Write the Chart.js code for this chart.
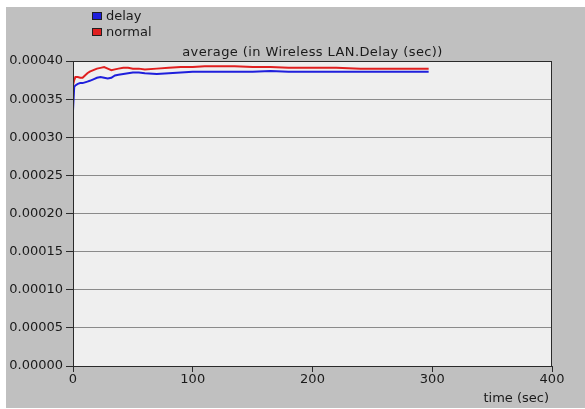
<!DOCTYPE html>
<html>
<head>
<meta charset="utf-8">
<script src="https://cdn.jsdelivr.net/npm/chart.js@4/dist/chart.umd.min.js"></script>
<style>
html,body{margin:0;padding:0;background:#fff;}
#wrap{width:585px;height:409px;position:relative;}
</style>
</head>
<body>
<div id="wrap"><canvas id="c" width="585" height="409"></canvas></div>
<script>
const chartTitle = 'average (in Wireless LAN.Delay (sec))';
const xAxisLabel = 'time (sec)';
const seriesNames = ['delay', 'normal'];
const seriesColors = ['#1f1fdc', '#e01f1f'];
const xTicks = [0, 100, 200, 300, 400];
const yTicks = [0, 0.00005, 0.0001, 0.00015, 0.0002, 0.00025, 0.0003, 0.00035, 0.0004];

const times = [0, 1, 2, 4, 6, 8, 10, 12, 14, 17, 20, 23, 26, 29, 32, 35, 38, 42, 46, 50, 55, 60, 70, 80, 90, 100, 110, 120, 135, 150, 165, 180, 200, 220, 240, 260, 280, 297];
const delayValues = [0.000335, 0.000366, 0.000368, 0.000370, 0.000371, 0.000371, 0.000372, 0.000373, 0.000374, 0.000376, 0.000378, 0.000379, 0.000378, 0.000377, 0.000378, 0.000381, 0.000382, 0.000383, 0.000384, 0.000385, 0.000385, 0.000384, 0.000383, 0.000384, 0.000385, 0.000386, 0.000386, 0.000386, 0.000386, 0.000386, 0.000387, 0.000386, 0.000386, 0.000386, 0.000386, 0.000386, 0.000386, 0.000386];
const normalValues = [0.000368, 0.000375, 0.000379, 0.000379, 0.000378, 0.000378, 0.000381, 0.000384, 0.000386, 0.000388, 0.000390, 0.000391, 0.000392, 0.000390, 0.000388, 0.000389, 0.000390, 0.000391, 0.000391, 0.000390, 0.000390, 0.000389, 0.000390, 0.000391, 0.000392, 0.000392, 0.000393, 0.000393, 0.000393, 0.000392, 0.000392, 0.000391, 0.000391, 0.000391, 0.000390, 0.000390, 0.000390, 0.000390];

const FONT = '"DejaVu Sans", sans-serif';

const deco = {
  id: 'deco',
  beforeDraw(chart) {
    const ctx = chart.ctx;
    ctx.save();
    ctx.fillStyle = '#ffffff';
    ctx.fillRect(0, 0, chart.width, chart.height);
    ctx.fillStyle = '#c0c0c0';
    ctx.fillRect(6, 7, chart.width - 6, 401);
    const a = chart.chartArea;
    ctx.fillStyle = '#efefef';
    ctx.fillRect(a.left, a.top, a.right - a.left, a.bottom - a.top);
    ctx.restore();
  },
  afterDraw(chart) {
    const ctx = chart.ctx;
    const a = chart.chartArea;
    ctx.save();
    ctx.strokeStyle = '#2a2a2a';
    ctx.lineWidth = 1;
    ctx.strokeRect(a.left + 0.5, a.top + 0.5, a.right - a.left - 1, a.bottom - a.top);
    ctx.fillStyle = '#1a1a1a';
    ctx.font = '13px ' + FONT;
    ctx.textBaseline = 'alphabetic';
    try { ctx.letterSpacing = '0.4px'; } catch (e) {}
    ctx.textAlign = 'center';
    ctx.fillText(chartTitle, (a.left + a.right) / 2, 56);
    try { ctx.letterSpacing = '0px'; } catch (e) {}
    ctx.textAlign = 'right';
    ctx.fillText(xAxisLabel, 549, 402);
    ctx.textAlign = 'left';
    ctx.textBaseline = 'middle';
    const ys = [16, 32];
    seriesNames.forEach((n, i) => {
      ctx.fillStyle = seriesColors[i];
      ctx.fillRect(92, ys[i] - 4, 10, 8);
      ctx.strokeStyle = '#202020';
      ctx.strokeRect(92.5, ys[i] - 3.5, 9, 7);
      ctx.fillStyle = '#1a1a1a';
      ctx.fillText(n, 106, ys[i] + 1);
    });
    ctx.restore();
  }
};

const mk = (vals) => times.map((t, i) => ({x: t, y: vals[i]}));

new Chart(document.getElementById('c'), {
  type: 'line',
  data: {
    datasets: [
      {label: seriesNames[0], data: mk(delayValues), borderColor: seriesColors[0], borderWidth: 2, pointRadius: 0, tension: 0},
      {label: seriesNames[1], data: mk(normalValues), borderColor: seriesColors[1], borderWidth: 2, pointRadius: 0, tension: 0}
    ]
  },
  options: {
    responsive: false,
    animation: false,
    layout: {padding: {left: 0, right: 33, top: 61, bottom: 0}},
    plugins: {legend: {display: false}, title: {display: false}, tooltip: {enabled: false}},
    scales: {
      x: {
        type: 'linear', min: 0, max: 400,
        afterBuildTicks: (s) => { s.ticks = xTicks.map(v => ({value: v})); },
        afterFit: (s) => { s.height = 43; },
        border: {display: false},
        grid: {drawOnChartArea: false, drawTicks: true, tickLength: 6, tickColor: '#2a2a2a'},
        ticks: {color: '#1a1a1a', font: {family: FONT, size: 13}, padding: 0, maxRotation: 0}
      },
      y: {
        type: 'linear', min: 0, max: 0.0004,
        afterBuildTicks: (s) => { s.ticks = yTicks.map(v => ({value: v})); },
        afterFit: (s) => { s.width = 73; },
        border: {display: false},
        grid: {color: '#8a8a8a', tickColor: '#2a2a2a', tickLength: 7, drawTicks: true},
        ticks: {color: '#1a1a1a', font: {family: FONT, size: 13}, padding: 3, callback: (v) => Number(v).toFixed(5)}
      }
    }
  },
  plugins: [deco]
});
</script>
</body>
</html>
